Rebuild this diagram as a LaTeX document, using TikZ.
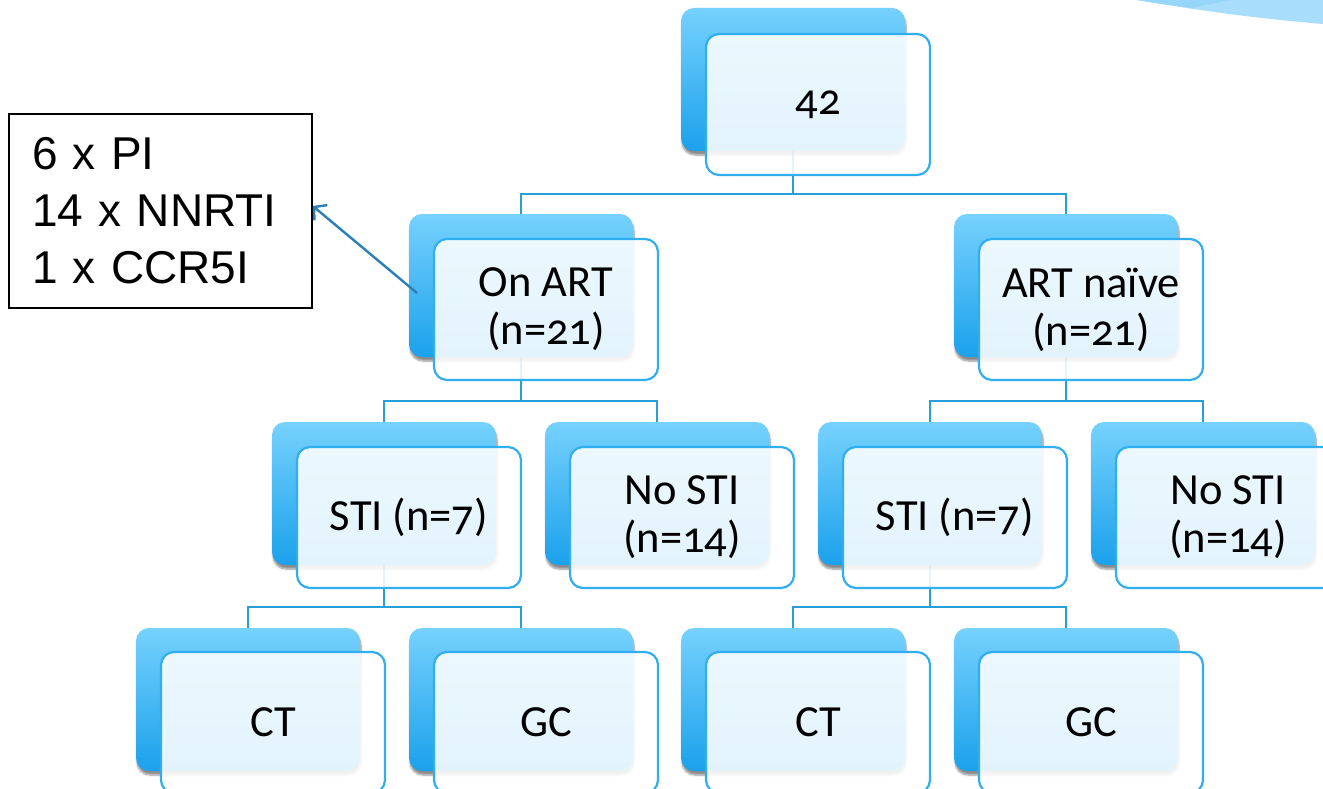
\documentclass[tikz,border=0pt]{standalone}
\usepackage{fontspec}
\setmainfont{Carlito}[Numbers=OldStyle]
\newfontfamily\arialfont{Liberation Sans}
\usetikzlibrary{shadows.blur,arrows.meta,calc}
\definecolor{bluetop}{RGB}{118,209,253}
\definecolor{bluemid}{RGB}{92,192,247}
\definecolor{bluebot}{RGB}{27,161,235}
\definecolor{edgeblue}{RGB}{48,174,240}
\definecolor{linkblue}{RGB}{39,160,218}
\definecolor{arrowblue}{RGB}{42,127,184}
\definecolor{decoA}{RGB}{168,222,251}
\definecolor{decoB}{RGB}{150,214,249}
\pgfdeclarelayer{bg}
\pgfsetlayers{bg,main}
\begin{document}
\begin{tikzpicture}[x=1pt,y=-1pt,
  backbox/.style={rounded corners=13pt, minimum width=224pt, minimum height=143pt, inner sep=0pt,
    top color=bluetop, middle color=bluemid, bottom color=bluebot, draw=none,
    blur shadow={shadow xshift=1pt, shadow yshift=-4pt, shadow blur steps=6, shadow opacity=45}},
  frontbox/.style={rounded corners=13pt, minimum width=224pt, minimum height=141pt, inner sep=0pt,
    fill=white, fill opacity=0.88, text opacity=1, draw=edgeblue, draw opacity=1, line width=2.2pt,
    align=center, font=\fontsize{44.5}{48}\selectfont},
  link/.style={draw=linkblue, line width=2.1pt},
  notebox/.style={draw=black, line width=1.5pt, minimum width=303pt, minimum height=194pt,
    inner xsep=23pt, inner ysep=0pt, text width=257pt, align=left,
    font=\arialfont\fontsize{46}{57}\selectfont}]
\useasboundingbox (0,0) rectangle (1323,789);
\clip (0,0) rectangle (1323,789);
% decoration top right
\fill[decoA] (1137,0) .. controls (1190,9) and (1250,18) .. (1323,24) -- (1323,0) -- cycle;
\fill[decoB] (1137,0) .. controls (1160,4) and (1180,6) .. (1192,8) .. controls (1205,5) and (1220,2) .. (1232,0) -- cycle;
% back boxes
\node[backbox] (b1) at (793,79.5) {};
\node[backbox] (b2l) at (521,285.5) {};
\node[backbox] (b2r) at (1066,285.5) {};
\node[backbox] (b3a) at (384,493.5) {};
\node[backbox] (b3b) at (657,493.5) {};
\node[backbox] (b3c) at (930,493.5) {};
\node[backbox] (b3d) at (1203,493.5) {};
\node[backbox] (b4a) at (248,699.5) {};
\node[backbox] (b4b) at (521,699.5) {};
\node[backbox] (b4c) at (793,699.5) {};
\node[backbox] (b4d) at (1066,699.5) {};
% front boxes
\node[frontbox] (f1) at (818,104.5) {42};
\node[frontbox] (f2l) at (546,309.5) {On ART\\(n=21)};
\node[frontbox] (f2r) at (1091,309.5) {ART naïve\\(n=21)};
\node[frontbox] (f3a) at (409,517.5) {STI (n=7)};
\node[frontbox] (f3b) at (682,517.5) {No STI\\(n=14)};
\node[frontbox] (f3c) at (955,517.5) {STI (n=7)};
\node[frontbox] (f3d) at (1228,517.5) {No STI\\(n=14)};
\node[frontbox] (f4a) at (273,722.5) {CT};
\node[frontbox] (f4b) at (546,722.5) {GC};
\node[frontbox] (f4c) at (818,722.5) {CT};
\node[frontbox] (f4d) at (1091,722.5) {GC};
% connectors
\begin{pgfonlayer}{bg}
\draw[link] (b1.south) -- ++(0,43) -| (b2l.north);
\draw[link] (b1.south) -- ++(0,43) -| (b2r.north);
\draw[link] (b2l.south) -- ++(0,44) -| (b3a.north);
\draw[link] (b2l.south) -- ++(0,44) -| (b3b.north);
\draw[link] (b2r.south) -- ++(0,44) -| (b3c.north);
\draw[link] (b2r.south) -- ++(0,44) -| (b3d.north);
\draw[link] (b3a.south) -- ++(0,42) -| (b4a.north);
\draw[link] (b3a.south) -- ++(0,42) -| (b4b.north);
\draw[link] (b3c.south) -- ++(0,42) -| (b4c.north);
\draw[link] (b3c.south) -- ++(0,42) -| (b4d.north);
\end{pgfonlayer}
% note box and arrow
\node[notebox] (txt) at (160.5,211) {6 x PI\\14 x NNRTI\\1 x CCR5I};
\coordinate (astart) at (417,293);
\draw[arrowblue, line width=2.4pt, -{Straight Barb[length=9pt,width=20pt]}] (astart) -- ([yshift=5pt]txt.east);
\end{tikzpicture}
\end{document}
